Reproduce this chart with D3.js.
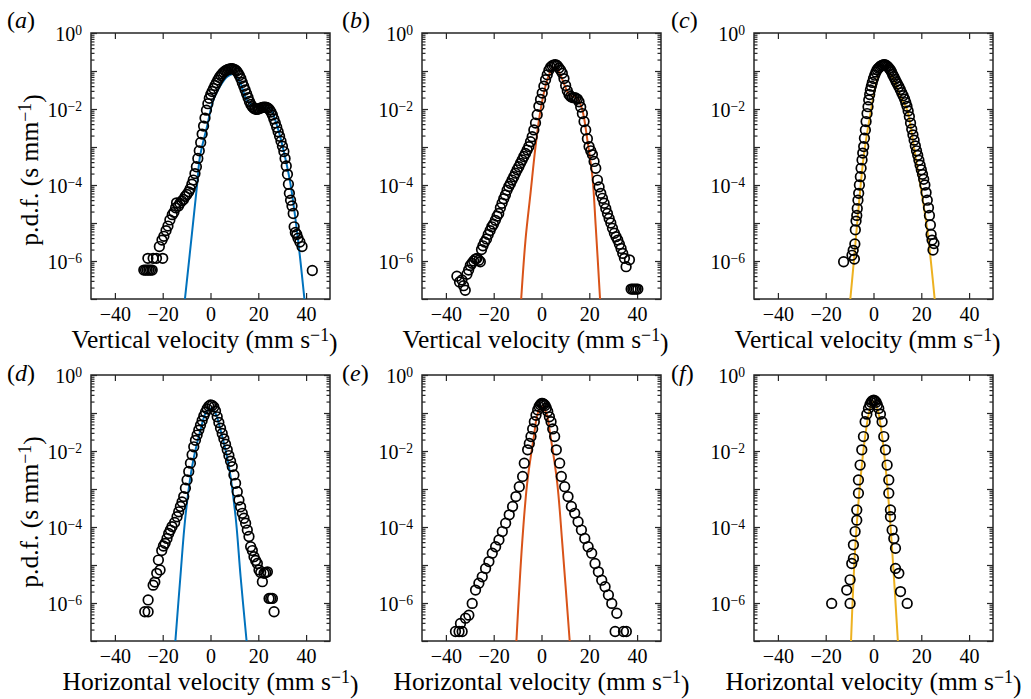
<!DOCTYPE html>
<html>
<head>
<meta charset="utf-8">
<script src="https://cdn.jsdelivr.net/npm/d3@7"></script>
<style>
  body { margin: 0; background: #fff; }
  text { font-family: "Liberation Serif", "Times New Roman", serif; fill: #000; }
</style>
</head>
<body>
<svg id="chart" width="1031" height="699"></svg>
<script>
// Data: [velocity (mm/s), log10 p.d.f.]

// (a) vertical velocity, first case
let dotsA = [[-27.9,-6.24],[-27.2,-6.24],[-26.5,-6.24],[-25.8,-6.24],[-25.1,-6.24],[-24.4,-6.24],[-26.2,-5.93],[-24,-5.93],
  [-22.6,-5.93],[-20,-5.93],[-21.4,-5.62],[-20.3,-5.45],[-19.5,-5.35],[-18.6,-5.2],[-17.8,-5.08],[-17,-4.92],[-16,-4.78],
  [-15.3,-4.72],[-14.6,-4.6],[-14.2,-4.47],[-13.4,-4.55],[-12.8,-4.48],[-12,-4.42],[-11.3,-4.38],[-10.6,-4.3],[-9.9,-4.25],
  [-9.1,-4.18],[-8.5,-4.1],[-7.8,-3.98],[-7.2,-3.87],[-6.5,-3.7],[-5.9,-3.52],[-5.3,-3.3],[-4.7,-3.1],[-4.1,-2.88],
  [-3.5,-2.66],[-2.9,-2.45],[-2.3,-2.24],[-1.7,-2.03],[-1.1,-1.86],[-0.5,-1.72],[0.1,-1.62],[0.7,-1.54],[1.3,-1.46],
  [1.9,-1.38],[2.5,-1.31],[3.1,-1.24],[3.7,-1.17],[4.3,-1.12],[4.9,-1.07],[5.5,-1.03],[6.1,-1.0],[6.7,-0.98],[7.3,-0.96],
  [7.9,-0.95],[8.5,-0.94],[9.1,-0.94],[9.7,-0.95],[10.3,-0.97],[10.9,-1.0],[11.5,-1.05],[12.1,-1.12],[12.7,-1.2],
  [13.3,-1.3],[13.9,-1.4],[14.5,-1.5],[15.1,-1.6],[15.7,-1.7],[16.3,-1.8],[16.9,-1.88],[17.5,-1.94],[18.1,-1.98],
  [18.7,-2.0],[19.3,-2.01],[19.9,-2.0],[20.5,-1.99],[21.1,-1.97],[21.7,-1.96],[22.3,-1.95],[22.9,-1.95],[23.5,-1.96],
  [24.1,-1.98],[24.7,-2.02],[25.3,-2.08],[25.9,-2.16],[26.5,-2.26],[27.1,-2.37],[27.7,-2.48],[28.3,-2.6],[28.9,-2.72],
  [29.5,-2.85],[30.1,-2.98],[30.7,-3.12],[31.2,-3.3],[31.7,-3.5],[32.2,-3.72],[32.6,-3.98],[33,-4.22],[33.5,-4.4],
  [34.1,-4.55],[34.6,-4.75],[35,-5.1],[35.5,-5.25],[36.1,-5.3],[36.6,-5.4],[37.4,-5.5],[38.3,-5.62],[42.6,-6.25]];
let fitA = [[-10.7,-7],[-7.8,-5.3],[-5.7,-4.05],[-4.4,-3.25],[-1.5,-2.47],[1.2,-1.76],[4,-1.4],[7,-1.15],[9.5,-1.08],
  [12,-1.25],[15.2,-1.76],[18,-1.93],[21,-1.95],[24,-1.97],[25.5,-2.05],[28,-2.47],[30.5,-3.07],[33.4,-3.95],
  [36.3,-5.27],[39.3,-7]];

// (b) vertical velocity, second case
let dotsB = [[-35.4,-6.4],[-34.3,-6.55],[-33.3,-6.5],[-32.6,-6.65],[-31.9,-6.77],[-31.2,-6.35],[-30.5,-6.24],[-29.8,-6.12],
  [-29.1,-6.06],[-28.4,-6.0],[-27.6,-5.95],[-27,-5.93],[-26.2,-5.98],[-25.6,-6.02],[-25.1,-5.7],[-24.5,-5.6],[-23.8,-5.5],
  [-23,-5.42],[-22.3,-5.3],[-21.5,-5.2],[-20.8,-5.1],[-20.1,-5.03],[-19.3,-4.93],[-18.6,-4.82],[-17.9,-4.75],[-17.2,-4.6],
  [-16.5,-4.48],[-15.8,-4.36],[-15.1,-4.26],[-14.4,-4.14],[-13.7,-4.04],[-13,-3.96],[-12.3,-3.87],[-11.6,-3.78],
  [-10.9,-3.69],[-10.2,-3.6],[-9.5,-3.52],[-8.8,-3.43],[-8.1,-3.34],[-7.4,-3.25],[-6.7,-3.17],[-6,-3.08],[-5.3,-2.99],
  [-4.6,-2.86],[-3.9,-2.73],[-3.2,-2.55],[-2.5,-2.37],[-1.8,-2.15],[-1.1,-1.93],[-0.4,-1.75],[0.3,-1.58],[1,-1.4],
  [1.7,-1.23],[2.4,-1.1],[3.1,-0.98],[3.8,-0.9],[4.5,-0.86],[5.2,-0.84],[5.9,-0.83],[6.6,-0.86],[7.3,-0.92],[8,-0.98],
  [8.7,-1.06],[9.4,-1.2],[10.1,-1.38],[10.8,-1.52],[11.5,-1.62],[12.2,-1.67],[12.9,-1.7],[13.6,-1.7],[14.3,-1.71],
  [15,-1.74],[15.7,-1.81],[16.4,-1.95],[17.1,-2.12],[17.8,-2.33],[18.5,-2.55],[19.2,-2.78],[19.9,-2.99],[20.6,-3.1],
  [21.3,-3.2],[22,-3.38],[22.7,-3.56],[23.4,-3.87],[24.1,-4.05],[24.8,-4.22],[25.5,-4.35],[26.2,-4.48],[26.9,-4.62],
  [27.6,-4.75],[28.3,-4.88],[29,-5.0],[29.7,-5.14],[30.5,-5.27],[31.2,-5.36],[31.9,-5.45],[32.6,-5.56],[33.3,-5.67],
  [34,-5.8],[34.7,-5.93],[35.4,-6.15],[36.8,-5.97],[37.5,-6.74],[38.2,-6.74],[38.9,-6.74],[39.6,-6.74],[40.3,-6.74]];
let fitB = [[-8.5,-7],[-6.7,-5.45],[-4.6,-4.22],[-2.5,-2.99],[-0.4,-2.03],[2.4,-1.23],[4.5,-0.95],[5.9,-0.9],[7.5,-1.05],
  [9.5,-1.35],[11.5,-1.62],[13,-1.67],[15,-1.71],[17.1,-2.03],[19.2,-2.82],[21.3,-3.78],[22.7,-5.1],[24.5,-7]];

// (c) vertical velocity, third case
let dotsC = [[-12.5,-6.02],[-9,-5.85],[-8.5,-5.72],[-8,-5.95],[-7.8,-5.55],[-7.6,-5.18],[-7.3,-4.95],[-7,-4.8],[-6.8,-4.62],
  [-6.5,-4.4],[-6.2,-4.22],[-5.9,-4.0],[-5.5,-3.78],[-5.2,-3.56],[-4.8,-3.34],[-4.5,-3.16],[-4.1,-2.99],[-3.8,-2.77],
  [-3.4,-2.55],[-3.1,-2.33],[-2.7,-2.12],[-2.3,-1.94],[-2,-1.76],[-1.6,-1.62],[-1.3,-1.5],[-0.9,-1.4],[-0.5,-1.3],[0,-1.2],
  [0.5,-1.11],[1,-1.03],[1.5,-0.97],[2,-0.93],[2.5,-0.9],[3,-0.87],[3.5,-0.85],[4,-0.84],[4.5,-0.83],[5,-0.84],[5.5,-0.86],
  [6,-0.89],[6.5,-0.93],[7,-0.97],[7.5,-1.02],[8,-1.09],[8.5,-1.15],[9,-1.22],[9.5,-1.28],[10,-1.34],[10.6,-1.41],
  [11.2,-1.49],[11.8,-1.57],[12.4,-1.65],[13,-1.74],[13.5,-1.83],[14,-1.93],[14.5,-2.05],[15,-2.2],[15.5,-2.37],[16,-2.53],
  [16.5,-2.68],[17,-2.82],[17.5,-2.97],[18,-3.1],[18.5,-3.22],[19,-3.35],[19.5,-3.48],[20,-3.6],[20.5,-3.72],[21,-3.85],
  [21.5,-4.0],[22,-4.2],[22.5,-4.4],[23,-4.6],[23.4,-4.8],[23.8,-5.05],[24.1,-5.3],[24.5,-5.45],[25.3,-5.54],[24.9,-5.71]];
let fitC = [[-9.7,-7],[-8.3,-6.06],[-6.2,-4.57],[-4.1,-3.25],[-1.3,-2.12],[1.5,-1.23],[3.5,-0.98],[5,-0.93],[6.5,-1.05],
  [8.5,-1.23],[11.3,-1.67],[14.1,-2.03],[16.9,-2.99],[19.7,-4.04],[22.5,-5.18],[25.6,-7]];

// (d) horizontal velocity, first case
let dotsD = [[-27.5,-6.23],[-26.1,-6.23],[-26.1,-5.92],[-24,-5.53],[-23.3,-5.45],[-22.5,-5.22],[-21.1,-5.13],[-21.8,-4.87],
  [-20.4,-4.62],[-19.7,-4.5],[-19,-4.43],[-18.2,-4.3],[-17.5,-4.17],[-16.8,-4.08],[-16.1,-3.99],[-15,-3.88],[-14,-3.73],
  [-13.3,-3.6],[-12.6,-3.46],[-11.9,-3.34],[-11.2,-3.2],[-10.5,-2.98],[-9.8,-2.76],[-9.1,-2.54],[-8.4,-2.32],[-7.7,-2.1],
  [-7,-1.89],[-6.3,-1.72],[-5.6,-1.58],[-4.9,-1.45],[-4.2,-1.32],[-3.5,-1.2],[-2.8,-1.08],[-2.1,-0.98],[-1.4,-0.89],
  [-0.7,-0.82],[0,-0.79],[0.7,-0.8],[1.4,-0.84],[2.1,-0.95],[2.8,-1.1],[3.5,-1.25],[4.2,-1.4],[4.9,-1.54],[5.6,-1.68],
  [6.3,-1.82],[7,-1.97],[7.7,-2.12],[8.4,-2.27],[9.1,-2.41],[9.8,-2.63],[10.5,-2.85],[11.2,-3.07],[11.9,-3.29],[12.6,-3.47],
  [13.3,-3.64],[14,-3.77],[14.7,-3.9],[15.4,-4.08],[16.1,-4.25],[16.8,-4.52],[17.5,-4.62],[18.2,-4.78],[18.9,-4.88],
  [19.6,-4.96],[20.3,-5.13],[21,-5.2],[21.7,-5.44],[22.4,-5.22],[23.1,-5.2],[23.8,-5.18],[24.5,-5.88],[25.2,-5.88],
  [25.9,-5.88],[26.6,-6.23]];
let fitD = [[-14.7,-7],[-12.6,-5.31],[-10.5,-3.73],[-7.7,-2.41],[-4.2,-1.45],[-2,-1.0],[0,-0.88],[2,-1.0],[4.2,-1.45],
  [7.7,-2.41],[10.5,-3.73],[12.6,-5.31],[15.1,-7]];

// (e) horizontal velocity, second case
let dotsE = [[-36,-6.75],[-34.5,-6.75],[-33.2,-6.75],[-33.9,-6.54],[-31.8,-6.4],[-30.4,-6.32],[-29,-6.01],[-27.6,-5.66],
  [-26.2,-5.48],[-24.8,-5.31],[-23.4,-5.09],[-22,-4.91],[-20.6,-4.69],[-19.2,-4.52],[-17.8,-4.34],[-16.4,-4.12],
  [-15,-3.9],[-13.5,-3.68],[-12.1,-3.46],[-10.7,-3.2],[-9.3,-2.94],[-7.9,-2.67],[-7.2,-2.32],[-5.8,-1.97],[-5.1,-1.8],
  [-4.4,-1.62],[-3.7,-1.42],[-3,-1.23],[-2.3,-1.06],[-1.6,-0.92],[-1,-0.83],[-0.5,-0.78],[0,-0.75],[0.5,-0.75],[1,-0.77],
  [1.5,-0.8],[2,-0.87],[2.6,-0.96],[3.3,-1.1],[4,-1.23],[4.7,-1.42],[5.5,-1.62],[6.2,-1.97],[7.6,-2.32],
  [8.3,-2.67],[9.7,-2.94],[11.1,-3.2],[12.5,-3.46],[13.9,-3.64],[15.3,-3.86],[16.7,-4.08],[18.1,-4.3],[19.5,-4.52],
  [21,-4.69],[22.4,-4.96],[23.8,-5.18],[25.2,-5.4],[26.6,-5.57],[28,-5.79],[29.4,-6.01],[31.5,-6.27],[30.8,-6.75],
  [34.3,-6.75],[35.5,-6.75]];
let fitE = [[-10.5,-7],[-8.1,-4.43],[-6,-2.85],[-3.2,-1.62],[-1.5,-1.0],[0.3,-0.83],[2,-1.0],[3.8,-1.62],[6.6,-2.85],
  [8.7,-4.43],[11.8,-7]];

// (f) horizontal velocity, third case
let dotsF = [[-17.5,-6.01],[-11.2,-5.66],[-9.8,-6.01],[-9.8,-5.39],[-9.1,-4.96],[-8.4,-4.83],[-8.4,-4.47],[-7.7,-4.12],
  [-7,-3.82],[-7,-3.55],[-6.3,-3.11],[-6.3,-2.76],[-5.6,-2.37],[-4.9,-1.97],[-4.2,-1.62],[-3.5,-1.23],[-2.8,-1.03],
  [-2.1,-0.88],[-1.5,-0.78],[-1,-0.72],[-0.5,-0.68],[0.1,-0.66],[0.6,-0.68],[1.1,-0.72],[1.6,-0.79],[2.2,-0.88],
  [2.9,-1.03],[3.6,-1.23],[4.3,-1.62],[5,-1.97],[5.7,-2.37],[6.4,-2.76],[6.4,-3.11],[7.1,-3.55],[7.1,-3.73],[7.8,-4.08],
  [8.5,-4.3],[9.2,-4.56],[9.2,-5.09],[10.6,-5.22],[11.3,-5.7],[14.1,-6.01]];
let fitF = [[-9.4,-7],[-7.7,-4.6],[-5.6,-2.85],[-3.5,-1.62],[-1.5,-0.9],[0.1,-0.7],[1.7,-0.9],[3.6,-1.62],[5.7,-2.85],
  [7.8,-4.6],[10.2,-7]];

// Axis settings
let xTicks = [-40, -20, 0, 20, 40];
let yLabelExps = [0, -2, -4, -6];
let panelNames = ["a", "b", "c", "d", "e", "f"];
let xLabels = ["Vertical velocity", "Horizontal velocity"];
let fitColors = ["#0072BD", "#D95319", "#EDB120"];

// Layout
let colLeft = [91, 422, 754], rowTop = [33, 375];
let labelShift = [-6, 0];
let pw = 239, ph = 266;
let svg = d3.select("#chart");

let x = d3.scaleLinear().domain([-50, 50]).range([0, pw]);
let y = d3.scaleLog().domain([1e-7, 1]).range([ph, 0]);

let majorY = d3.range(0, -8, -1).map(e => Math.pow(10, e));
let minorY = [];
for (let e = -7; e < 0; e++) for (let k = 2; k <= 9; k++) minorY.push(k * Math.pow(10, e));

let line = d3.line()
    .x(d => x(d[0]))
    .y(d => y(Math.pow(10, d[1])))
    .curve(d3.curveCatmullRom.alpha(0.5));

let panels = [
  { dots: dotsA, fit: fitA }, { dots: dotsB, fit: fitB }, { dots: dotsC, fit: fitC },
  { dots: dotsD, fit: fitD }, { dots: dotsE, fit: fitE }, { dots: dotsF, fit: fitF }
];

function unitsLabel(sel, prefix) {
  sel.append("tspan").text(prefix);
  sel.append("tspan").attr("dy", "-0.42em").attr("font-size", "0.7em").text("\u22121");
  sel.append("tspan").attr("dy", "0.42em").text(")");
}

panels.forEach(function (p, i) {
  let col = i % 3, row = Math.floor(i / 3);
  let g = svg.append("g").attr("transform", `translate(${colLeft[col]},${rowTop[row]})`);

  g.append("clipPath").attr("id", "clip" + i)
    .append("rect").attr("width", pw).attr("height", ph);

  // axes with inward ticks
  g.append("g").attr("transform", `translate(0,${ph})`)
    .call(d3.axisBottom(x).tickValues(xTicks).tickSizeInner(-6).tickSizeOuter(0).tickPadding(8)
      .tickFormat(d => d < 0 ? "\u2212" + Math.abs(d) : d))
    .call(a => a.selectAll("text").attr("font-size", 20));
  g.append("g")
    .call(d3.axisTop(x).tickValues(xTicks).tickSizeInner(-6).tickSizeOuter(0).tickFormat(""));

  let yl = g.append("g")
    .call(d3.axisLeft(y).tickValues(majorY).tickSizeInner(-6).tickSizeOuter(0).tickPadding(9).tickFormat(""));
  yl.selectAll(".tick").each(function (d) {
    let e = Math.round(Math.log10(d));
    if (!yLabelExps.includes(e)) return;
    let t = d3.select(this).select("text").attr("font-size", 20).attr("dy", "0.38em");
    t.append("tspan").text("10");
    t.append("tspan").attr("dy", "-0.45em").attr("font-size", "0.68em").text(e < 0 ? "\u2212" + Math.abs(e) : e);
  });
  g.append("g")
    .call(d3.axisLeft(y).tickValues(minorY).tickSizeInner(-3.5).tickSizeOuter(0).tickFormat(""));
  g.append("g").attr("transform", `translate(${pw},0)`)
    .call(d3.axisRight(y).tickValues(majorY).tickSizeInner(-6).tickSizeOuter(0).tickFormat(""));
  g.append("g").attr("transform", `translate(${pw},0)`)
    .call(d3.axisRight(y).tickValues(minorY).tickSizeInner(-3.5).tickSizeOuter(0).tickFormat(""));

  g.selectAll(".domain").remove();
  g.selectAll(".tick line").attr("stroke", "#262626").attr("stroke-width", 1.2);

  // frame
  g.append("rect").attr("width", pw).attr("height", ph)
    .attr("fill", "none").attr("stroke", "#262626").attr("stroke-width", 1.5);

  // fit line
  g.append("path").datum(p.fit)
    .attr("clip-path", `url(#clip${i})`)
    .attr("d", line)
    .attr("fill", "none")
    .attr("stroke", fitColors[col])
    .attr("stroke-width", 2);

  // measured p.d.f.
  g.selectAll("circle.pt").data(p.dots).enter().append("circle")
    .attr("class", "pt")
    .attr("cx", d => x(d[0]))
    .attr("cy", d => y(Math.pow(10, d[1])))
    .attr("r", 4.8)
    .attr("fill", "none")
    .attr("stroke", "#000")
    .attr("stroke-width", 1.7);

  // x label
  let xt = g.append("text").attr("x", pw / 2 + labelShift[row]).attr("y", ph + 49)
    .attr("text-anchor", "middle").attr("font-size", 25.5);
  unitsLabel(xt, xLabels[row] + " (mm s");

  // y label (first column only)
  if (col == 0) {
    let ytx = g.append("text").attr("transform", `translate(${38 - colLeft[0]},${ph / 2 + 4}) rotate(-90)`)
      .attr("text-anchor", "middle").attr("font-size", 25.5);
    unitsLabel(ytx, "p.d.f. (s mm");
  }
});

// panel letters
let letterX = [7, 342, 671], letterY = [28, 381];
panelNames.forEach(function (n, i) {
  let t = svg.append("text").attr("x", letterX[i % 3]).attr("y", letterY[Math.floor(i / 3)]).attr("font-size", 24);
  t.append("tspan").text("(");
  t.append("tspan").attr("font-style", "italic").text(n);
  t.append("tspan").text(")");
});
</script>
</body>
</html>
